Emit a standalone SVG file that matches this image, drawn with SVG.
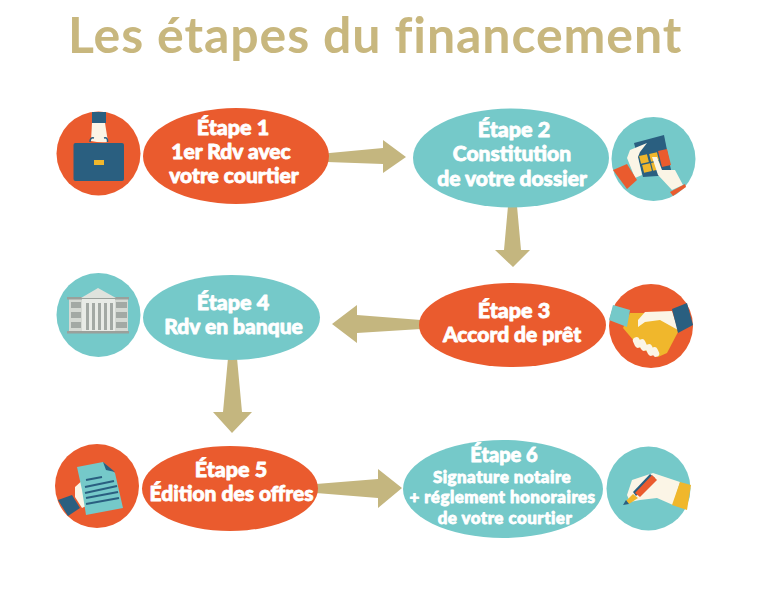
<svg xmlns="http://www.w3.org/2000/svg" width="768" height="591" viewBox="0 0 768 591">
<style>
.or{fill:#ea5b2e}.te{fill:#75c9c9}.ar{fill:#c4b67f}.na{fill:#2a5f80}.cr{fill:#fbf5e6}.ye{fill:#f0b72c}
.t{font-family:"Lato","Liberation Sans",sans-serif;font-weight:900;fill:#fff;text-anchor:middle;stroke:#fff;stroke-width:.8;stroke-linejoin:round}
.a{font-size:21.5px}.b{font-size:21px}.c{font-size:17px;letter-spacing:.45px}.d{font-size:20px}
.title{font-family:"Lato","Liberation Sans",sans-serif;font-weight:700;font-size:50px;fill:#c8b77e;letter-spacing:.9px}
</style>
<rect width="768" height="591" fill="#fff"/>
<text id="title" class="title" x="68" y="53">Les étapes du financement</text>
<g id="connectors">
<polygon class="ar" points="327,153.3 383,148 383,140 406,157 383,173 383,164 327,162"/>
<polygon class="ar" points="508,206 517,206 521,250 530,250 513,267 495,250 504,250"/>
<polygon class="ar" points="421,320 357,315 357,305 332,324 357,343 357,333 421,329"/>
<polygon class="ar" points="228,358 237,358 242,412 252,412 232,433 213,412 223,412"/>
<polygon class="ar" points="316,484 378,479 378,469 402,488 378,508 378,498 316,493"/>
</g>
<g id="step1"><ellipse class="or" cx="236" cy="156" rx="93" ry="48"/>
<text class="t a" x="233" y="135">Étape 1</text><text class="t b" x="231" y="159">1er Rdv avec</text><text class="t b" x="234" y="183">votre courtier</text></g>
<g id="icon1"><circle class="or" cx="98.5" cy="153.5" r="42"/>
<rect class="na" x="92" y="112" width="14" height="11"/>
<path class="cr" d="M92 123H105L108 142Q100 143 91 141Z"/>
<path d="M90 142Q90 137 94 138M104 138Q108 137 107.500 142" fill="none" stroke="#2a5f80" stroke-width="1.500"/>
<rect class="na" x="73.500" y="143" width="50.500" height="38" rx="2"/>
<rect class="ye" x="94" y="160" width="10" height="5"/></g>
<g id="step2"><ellipse class="te" cx="511" cy="158" rx="98" ry="49.500"/>
<text class="t a" x="514" y="137">Étape 2</text><text class="t b" x="512" y="161">Constitution</text><text class="t b" x="512" y="186">de votre dossier</text></g>
<g id="icon2"><circle class="te" cx="653.500" cy="159" r="42"/>
<polygon class="na" points="634,143 664,135 672,175 643,177"/>
<polygon class="or" points="658,151 667,149 671,165 662,167"/>
<g class="ye"><rect x="640" y="155" width="8" height="8" transform="rotate(-14 644 159)"/><rect x="650" y="153" width="8" height="8" transform="rotate(-14 654 157)"/><rect x="643" y="164" width="8" height="8" transform="rotate(-14 647 168)"/><rect x="652" y="162" width="8" height="8" transform="rotate(-14 656 166)"/></g>
<polygon class="cr" points="627,158 630,150 647,143 640,152 638,157 642,175 635,178"/>
<polygon class="cr" points="652,157 657,157 662,170 675,170 683,185 672,190 658,175"/>
<polygon class="or" points="613,170 627,164 637,180 627,189"/>
<polygon class="or" points="670,192 685,184 686,187 673,196"/></g>
<g id="step4"><ellipse class="te" cx="231.500" cy="317.500" rx="88.500" ry="42.500"/>
<text class="t a" x="233" y="310">Étape 4</text><text class="t b" x="233.500" y="334">Rdv en banque</text></g>
<g id="icon4"><circle class="te" cx="98.500" cy="315" r="42"/>
<rect x="69" y="298" width="59" height="34" fill="#d5d9d3"/>
<rect x="67" y="297" width="62" height="2.500" fill="#9aa09b"/><rect x="67" y="331" width="62" height="2.500" fill="#9aa09b"/>
<polygon points="81,298 98,288 116,298" fill="#dfe3dd"/>
<rect x="82" y="299" width="33" height="32" fill="#e8ebe6"/>
<g fill="#a3a9a4"><rect x="86" y="303" width="3" height="27"/><rect x="92" y="303" width="3" height="27"/><rect x="98" y="303" width="3" height="27"/><rect x="104" y="303" width="3" height="27"/><rect x="110" y="303" width="3" height="27"/></g>
<g fill="#a3a9a4"><rect x="71" y="302" width="10" height="6"/><rect x="71" y="312" width="10" height="6"/><rect x="71" y="322" width="10" height="6"/><rect x="116" y="302" width="11" height="6"/><rect x="116" y="312" width="11" height="6"/><rect x="116" y="322" width="11" height="6"/></g></g>
<g id="step3"><ellipse class="or" cx="512.500" cy="325" rx="93.500" ry="42"/>
<text class="t a" x="514" y="318">Étape 3</text><text class="t b" x="512" y="342">Accord de prêt</text></g>
<g id="icon3"><circle class="or" cx="651" cy="326" r="42"/>
<polygon class="ye" points="630,313 623,328 640,348 658,357 667,353 678,332 671,313"/>
<polygon class="cr" points="638,320 645,312 672,311 678,330 660,320 645,322 638,327"/>
<g class="cr"><rect x="633.500" y="337" width="7" height="11" rx="3.500" transform="rotate(-25 637 342)"/><rect x="639.500" y="339" width="7" height="12" rx="3.500" transform="rotate(-25 643 345)"/><rect x="646.500" y="344" width="7" height="12" rx="3.500" transform="rotate(-25 650 350)"/><rect x="652" y="347" width="6.500" height="10" rx="3.200" transform="rotate(-25 655 352)"/></g>
<polygon class="te" points="613,305 630,310 627,327 609,320"/>
<polygon class="na" points="672,309 687,303 693,325 678,333"/></g>
<g id="step5"><ellipse class="or" cx="230" cy="488.500" rx="88" ry="42.500"/>
<text class="t a" x="231" y="477">Étape 5</text><text class="t b" x="231.500" y="501">Édition des offres</text></g>
<g id="icon5"><circle class="or" cx="97" cy="486" r="42"/>
<polygon class="cr" points="75,487 85,478 88,505 82,508 75,497"/>
<polygon class="na" points="58,500 72,495 80,508 68,516"/>
<polygon class="te" points="77,467 103,462 115,473 123,508 86,515 82,490"/>
<polygon class="na" points="103,462 115,472 106,470"/>
<g stroke="#2a5f80" stroke-width="2.200"><line x1="86" y1="480" x2="102" y2="477"/><line x1="85" y1="487" x2="114" y2="481"/><line x1="85" y1="493" x2="117" y2="486"/><line x1="86" y1="498" x2="118" y2="492"/><line x1="86" y1="504" x2="119" y2="498"/></g></g>
<g id="step6"><ellipse class="te" cx="503" cy="489" rx="100" ry="49"/>
<text class="t d" x="504" y="462">Étape 6</text><text class="t c" x="502" y="482.500">Signature notaire</text><text class="t c" x="502.500" y="503">+ réglement honoraires</text><text class="t c" x="505" y="523.500">de votre courtier</text></g>
<g id="icon6"><circle class="te" cx="648.500" cy="488.500" r="42"/>
<polygon class="cr" points="627,495 632,480 653,473 680,482 673,505 657,498 640,500 630,502"/>
<polygon class="ye" points="680,482 691,485 687,510 672,505"/>
<polygon class="na" points="633,492 650,474 655,478 636,496"/>
<polygon class="or" points="635,493 652,475 657,480 640,497"/>
<polygon class="ye" points="626,501 633,494 638,498 629,504"/>
<polygon class="na" points="623,505 626,500 629,504"/></g>
</svg>
